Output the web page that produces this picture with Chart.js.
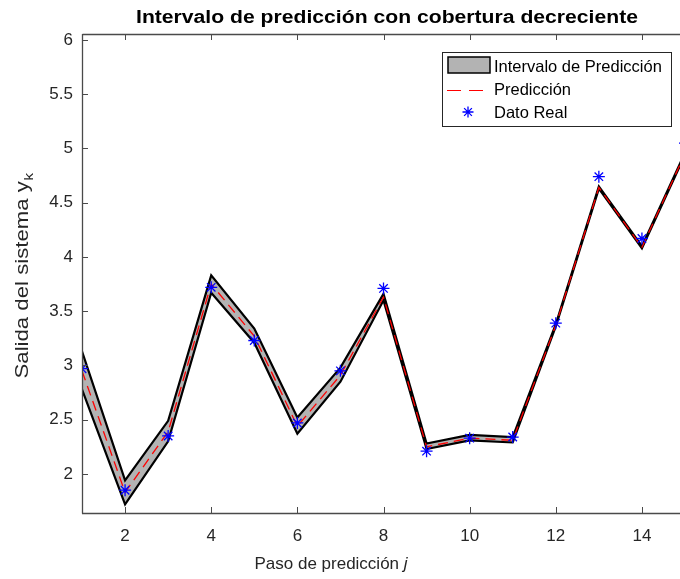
<!DOCTYPE html>
<html>
<head>
<meta charset="utf-8">
<script src="https://cdn.jsdelivr.net/npm/chart.js@4"></script>
<style>
html,body{margin:0;padding:0;background:#fff;overflow:hidden;width:680px;height:579px;}
#wrap{position:absolute;left:0;top:0;width:700px;height:579px;}
</style>
</head>
<body>
<div id="wrap"><canvas id="c" width="700" height="579"></canvas></div>
<script>
const steps = [1,2,3,4,5,6,7,8,9,10,11,12,13,14,15];
const upperBound = [3.13,1.94,2.49,3.83,3.34,2.52,2.98,3.66,2.28,2.36,2.34,3.38,4.65,4.10,4.96];
const lowerBound = [2.78,1.72,2.30,3.67,3.21,2.37,2.85,3.60,2.23,2.31,2.29,3.36,4.63,4.08,4.94];
const prediction = [2.95,1.83,2.39,3.75,3.27,2.44,2.91,3.63,2.25,2.33,2.31,3.37,4.64,4.09,4.95];
const realData   = [2.97,1.85,2.35,3.72,3.23,2.47,2.95,3.71,2.21,2.33,2.34,3.39,4.74,4.17,5.05];
const xTicks = [2,4,6,8,10,12,14];
const yTicks = [2,2.5,3,3.5,4,4.5,5,5.5,6];
const legendLabels = ['Intervalo de Predicción','Predicción','Dato Real'];

const FONT = '"Liberation Sans", Arial, Helvetica, sans-serif';
const AX = '#4a4a4a';
const TXT = '#262626';

const pts = arr => steps.map((s,i)=>({x:s,y:arr[i]}));

function fitText(ctx, text, x, y, targetW){
  const w = ctx.measureText(text).width;
  ctx.save(); ctx.translate(x,y); ctx.scale(targetW/w,1);
  ctx.fillText(text,0,0); ctx.restore();
}

const framePlugin = {
  id:'frame',
  afterDraw(chart){
    const ctx = chart.ctx, a = chart.chartArea;
    const xs = chart.scales.x, ys = chart.scales.y;
    ctx.save();
    ctx.strokeStyle = AX; ctx.lineWidth = 1.3;
    ctx.beginPath();
    ctx.moveTo(a.left+0.5, a.top+0.5); ctx.lineTo(a.right, a.top+0.5);
    ctx.moveTo(a.left+0.5, a.top); ctx.lineTo(a.left+0.5, a.bottom+0.5);
    ctx.moveTo(a.left, a.bottom+0.5); ctx.lineTo(a.right, a.bottom+0.5);
    ctx.stroke();
    ctx.lineWidth = 1;
    ctx.beginPath();
    xTicks.forEach(v=>{const px=Math.round(xs.getPixelForValue(v))+0.5;
      ctx.moveTo(px,a.bottom); ctx.lineTo(px,a.bottom-6);
      ctx.moveTo(px,a.top); ctx.lineTo(px,a.top+6);});
    yTicks.forEach(v=>{const py=Math.round(ys.getPixelForValue(v))+0.5;
      ctx.moveTo(a.left,py); ctx.lineTo(a.left+6,py);});
    ctx.stroke();

    // title
    ctx.fillStyle = '#000';
    ctx.font = 'bold 18px '+FONT;
    ctx.textAlign='left'; ctx.textBaseline='middle';
    fitText(ctx, 'Intervalo de predicción con cobertura decreciente', 136, 18, 502);

    // x label with italic j
    ctx.fillStyle = TXT;
    const p1 = 'Paso de predicción ';
    ctx.font = '17px '+FONT; const w1 = ctx.measureText(p1).width;
    ctx.font = 'italic 17px '+FONT; const w2 = ctx.measureText('j').width;
    let sx = 331 - (w1+w2)/2;
    ctx.textAlign='left';
    ctx.font = '17px '+FONT; ctx.fillText(p1, sx, 564);
    ctx.font = 'italic 17px '+FONT; ctx.fillText('j', sx+w1, 564);

    // y label with subscript
    ctx.save();
    ctx.translate(23, 276);
    ctx.rotate(-Math.PI/2);
    ctx.font = '19px '+FONT;
    const m1 = 'Salida del sistema y';
    const wm1 = ctx.measureText(m1).width;
    ctx.font = '13px '+FONT; const wk = ctx.measureText('k').width;
    const tot = wm1+wk, target = 205, sc = target/tot;
    ctx.scale(sc,1);
    let st = -tot/2;
    ctx.font = '19px '+FONT; ctx.fillText(m1, st, 0);
    ctx.font = '13px '+FONT; ctx.fillText('k', st+wm1+0.5, 6);
    ctx.restore();

    // legend
    const L = 442, T = 52, R = 671, B = 126;
    ctx.fillStyle='#fff'; ctx.fillRect(L,T,R-L,B-T);
    ctx.strokeStyle='#262626'; ctx.lineWidth=1;
    ctx.strokeRect(L+0.5,T+0.5,R-L,B-T);
    ctx.fillStyle='#b3b3b3'; ctx.fillRect(448,57,42,16);
    ctx.strokeStyle='#000'; ctx.lineWidth=1.5; ctx.strokeRect(448,57,42,16);
    ctx.strokeStyle='#ff0000'; ctx.lineWidth=1.2; ctx.setLineDash([14,8]);
    ctx.beginPath(); ctx.moveTo(447,90.5); ctx.lineTo(483,90.5); ctx.stroke();
    ctx.setLineDash([]);
    ctx.strokeStyle='#0000ff'; ctx.lineWidth=1.3;
    const cx=468, cy=112, r=5.5;
    ctx.beginPath();
    ctx.moveTo(cx-r,cy); ctx.lineTo(cx+r,cy);
    ctx.moveTo(cx,cy-r); ctx.lineTo(cx,cy+r);
    const d=r*0.707;
    ctx.moveTo(cx-d,cy-d); ctx.lineTo(cx+d,cy+d);
    ctx.moveTo(cx-d,cy+d); ctx.lineTo(cx+d,cy-d);
    ctx.stroke();
    ctx.fillStyle='#000'; ctx.font='16.5px '+FONT; ctx.textAlign='left'; ctx.textBaseline='middle';
    ctx.fillText(legendLabels[0], 494, 67);
    ctx.fillText(legendLabels[1], 494, 90);
    ctx.fillText(legendLabels[2], 494, 113);
    ctx.restore();
  }
};

new Chart(document.getElementById('c'), {
  type:'line',
  data:{
    datasets:[
      {label:legendLabels[2], data:pts(realData), showLine:false, pointStyle:'star', pointRadius:6,
       pointBorderColor:'#0000ff', pointBackgroundColor:'#0000ff', pointBorderWidth:1.3, order:0},
      {label:legendLabels[1], data:pts(prediction), borderColor:'#ff0000', borderWidth:1.3,
       borderDash:[10,6], pointRadius:0, fill:false, tension:0, order:1},
      {label:'lower', data:pts(lowerBound), borderColor:'#000', borderWidth:2.2,
       pointRadius:0, fill:false, tension:0, order:2},
      {label:legendLabels[0], data:pts(upperBound), borderColor:'#000', borderWidth:2.2,
       backgroundColor:'#b3b3b3', pointRadius:0, fill:'-1', tension:0, order:3}
    ]
  },
  options:{
    responsive:false, animation:false,
    layout:{padding:{top:34,right:15,left:0,bottom:0}},
    plugins:{legend:{display:false}, tooltip:{enabled:false}, title:{display:false}},
    scales:{
      x:{type:'linear', min:1, max:15,
        afterBuildTicks:s=>{s.ticks=xTicks.map(v=>({value:v}));},
        afterFit:s=>{s.height=66;},
        grid:{display:false}, border:{display:false},
        ticks:{color:TXT, font:{family:FONT,size:17}, padding:5, maxRotation:0, autoSkip:false}},
      y:{type:'linear', min:1.64, max:6.055,
        afterBuildTicks:s=>{s.ticks=yTicks.map(v=>({value:v}));},
        afterFit:s=>{s.width=82;},
        grid:{display:false}, border:{display:false},
        ticks:{color:TXT, font:{family:FONT,size:17}, padding:1, autoSkip:false,
          callback:v=>String(v)}}
    }
  },
  plugins:[framePlugin]
});
</script>
</body>
</html>
